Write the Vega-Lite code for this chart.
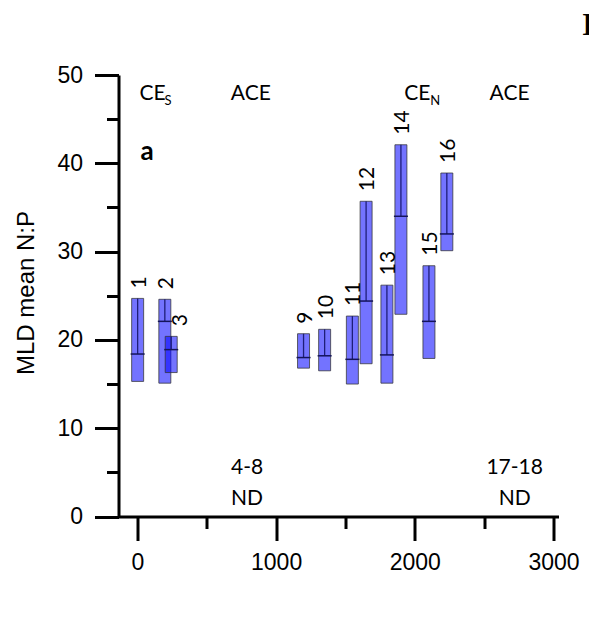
{
  "$schema": "https://vega.github.io/schema/vega-lite/v6.json",
  "autosize": {"type": "none"},
  "width": 440,
  "height": 441.5,
  "padding": {"left": 118.5, "top": 75, "right": 30.5, "bottom": 117.5},
  "background": "white",
  "config": {"view": {"stroke": null}},
  "datasets": {
    "boxes": [
      {"id": "1", "pos": 2, "low": 15.3, "high": 24.7, "median": 18.4},
      {"id": "2", "pos": 198, "low": 15.1, "high": 24.6, "median": 22.1},
      {"id": "3", "pos": 244, "low": 16.3, "high": 20.4, "median": 18.9},
      {"id": "9", "pos": 1198, "low": 16.8, "high": 20.7, "median": 18.0},
      {"id": "10", "pos": 1350, "low": 16.5, "high": 21.2, "median": 18.2},
      {"id": "11", "pos": 1550, "low": 15.0, "high": 22.7, "median": 17.8},
      {"id": "12", "pos": 1649, "low": 17.3, "high": 35.7, "median": 24.4},
      {"id": "13", "pos": 1799, "low": 15.1, "high": 26.2, "median": 18.3},
      {"id": "14", "pos": 1900, "low": 22.9, "high": 42.1, "median": 34.0},
      {"id": "15", "pos": 2102, "low": 17.9, "high": 28.4, "median": 22.1},
      {"id": "16", "pos": 2231, "low": 30.1, "high": 38.9, "median": 32.0}
    ],
    "notes": [
      {"kind": "left", "x": 16, "y": 47.2, "text": "CE"},
      {"kind": "sub", "x": 196, "y": 46.6, "text": "S"},
      {"kind": "left", "x": 674, "y": 47.2, "text": "ACE"},
      {"kind": "left", "x": 1924, "y": 47.2, "text": "CE"},
      {"kind": "sub", "x": 2112, "y": 46.6, "text": "N"},
      {"kind": "left", "x": 2539, "y": 47.2, "text": "ACE"},
      {"kind": "center", "x": 791, "y": 4.8, "text": "4-8"},
      {"kind": "center", "x": 791, "y": 1.25, "text": "ND"},
      {"kind": "center", "x": 2720, "y": 4.8, "text": "17-18"},
      {"kind": "center", "x": 2720, "y": 1.25, "text": "ND"},
      {"kind": "bold", "x": 23, "y": 40.4, "text": "a"},
      {"kind": "serif", "x": 3205, "y": 54.5, "text": "I"}
    ]
  },
  "layer": [
    {
      "data": {"name": "boxes"},
      "mark": {"type": "bar", "size": 12, "fill": "#0000ff", "fillOpacity": 0.55, "stroke": "#333333", "strokeOpacity": 0.75, "strokeWidth": 1},
      "encoding": {
        "x": {
          "field": "pos", "type": "quantitative",
          "scale": {"domain": [-100, 3000], "nice": false, "zero": false},
          "axis": {
            "values": [0, 500, 1000, 1500, 2000, 2500, 3000],
            "labelExpr": "datum.value % 1000 === 0 ? datum.label : ''",
            "tickSize": {"condition": {"test": "datum.value % 1000 === 0", "value": 24}, "value": 12},
            "grid": false, "title": null,
            "domainWidth": 3, "domainColor": "black", "tickWidth": 3, "tickColor": "black",
            "labelFont": "Liberation Sans", "labelFontSize": 23, "labelColor": "black",
            "labelPadding": 11, "labelFlush": false, "labelOverlap": false, "format": "d"
          }
        },
        "y": {
          "field": "low", "type": "quantitative",
          "scale": {"domain": [0, 50], "nice": false},
          "axis": {
            "values": [0, 5, 10, 15, 20, 25, 30, 35, 40, 45, 50],
            "labelExpr": "datum.value % 10 === 0 ? datum.label : ''",
            "tickSize": {"condition": {"test": "datum.value % 10 === 0", "value": 24}, "value": 12},
            "grid": false, "title": "MLD mean N:P",
            "titleFont": "Liberation Sans", "titleFontSize": 24, "titleFontWeight": "normal", "titleColor": "black",
            "titleX": -85, "titleY": 217.5, "titleBaseline": "alphabetic", "titleAlign": "center", "titleAngle": -90,
            "domainWidth": 3, "domainColor": "black", "tickWidth": 3, "tickColor": "black",
            "labelFont": "Liberation Sans", "labelFontSize": 23, "labelColor": "black",
            "labelPadding": 12, "labelOverlap": false
          }
        },
        "y2": {"field": "high"}
      }
    },
    {
      "data": {"name": "boxes"},
      "mark": {"type": "rule", "color": "#1e1e78", "strokeWidth": 1.3},
      "encoding": {
        "x": {"field": "pos", "type": "quantitative"},
        "y": {"field": "median", "type": "quantitative"},
        "y2": {"field": "high"}
      }
    },
    {
      "data": {"name": "boxes"},
      "mark": {"type": "tick", "orient": "horizontal", "color": "#14145a", "size": 14, "thickness": 1.5, "opacity": 1},
      "encoding": {
        "x": {"field": "pos", "type": "quantitative"},
        "y": {"field": "median", "type": "quantitative"}
      }
    },
    {
      "data": {"name": "boxes"},
      "transform": [{"filter": "datum.id !== '3'"}],
      "mark": {"type": "text", "angle": 270, "align": "left", "baseline": "middle", "dx": 10, "dy": 2, "font": "Lato", "fontSize": 21, "color": "black"},
      "encoding": {
        "x": {"field": "pos", "type": "quantitative"},
        "y": {"field": "high", "type": "quantitative"},
        "text": {"field": "id"}
      }
    },
    {
      "data": {"name": "boxes"},
      "transform": [{"filter": "datum.id === '3'"}],
      "mark": {"type": "text", "angle": 270, "align": "left", "baseline": "middle", "dx": 10, "dy": 10, "font": "Lato", "fontSize": 21, "color": "black"},
      "encoding": {
        "x": {"field": "pos", "type": "quantitative"},
        "y": {"field": "high", "type": "quantitative"},
        "text": {"field": "id"}
      }
    },
    {
      "data": {"name": "notes"},
      "transform": [{"filter": "datum.kind === 'left'"}],
      "mark": {"type": "text", "align": "left", "baseline": "alphabetic", "font": "Lato", "fontSize": 21, "color": "black"},
      "encoding": {
        "x": {"field": "x", "type": "quantitative"},
        "y": {"field": "y", "type": "quantitative"},
        "text": {"field": "text"}
      }
    },
    {
      "data": {"name": "notes"},
      "transform": [{"filter": "datum.kind === 'center'"}],
      "mark": {"type": "text", "align": "center", "baseline": "alphabetic", "font": "Lato", "fontSize": 21, "color": "black"},
      "encoding": {
        "x": {"field": "x", "type": "quantitative"},
        "y": {"field": "y", "type": "quantitative"},
        "text": {"field": "text"}
      }
    },
    {
      "data": {"name": "notes"},
      "transform": [{"filter": "datum.kind === 'sub'"}],
      "mark": {"type": "text", "align": "left", "baseline": "alphabetic", "font": "Lato", "fontSize": 13, "color": "black"},
      "encoding": {
        "x": {"field": "x", "type": "quantitative"},
        "y": {"field": "y", "type": "quantitative"},
        "text": {"field": "text"}
      }
    },
    {
      "data": {"name": "notes"},
      "transform": [{"filter": "datum.kind === 'bold'"}],
      "mark": {"type": "text", "align": "left", "baseline": "alphabetic", "font": "Lato", "fontWeight": "bold", "fontSize": 26, "color": "black"},
      "encoding": {
        "x": {"field": "x", "type": "quantitative"},
        "y": {"field": "y", "type": "quantitative"},
        "text": {"field": "text"}
      }
    },
    {
      "data": {"name": "notes"},
      "transform": [{"filter": "datum.kind === 'serif'"}],
      "mark": {"type": "text", "align": "left", "baseline": "alphabetic", "font": "Liberation Serif", "fontWeight": "bold", "fontSize": 32, "color": "black"},
      "encoding": {
        "x": {"field": "x", "type": "quantitative"},
        "y": {"field": "y", "type": "quantitative"},
        "text": {"field": "text"}
      }
    }
  ]
}
